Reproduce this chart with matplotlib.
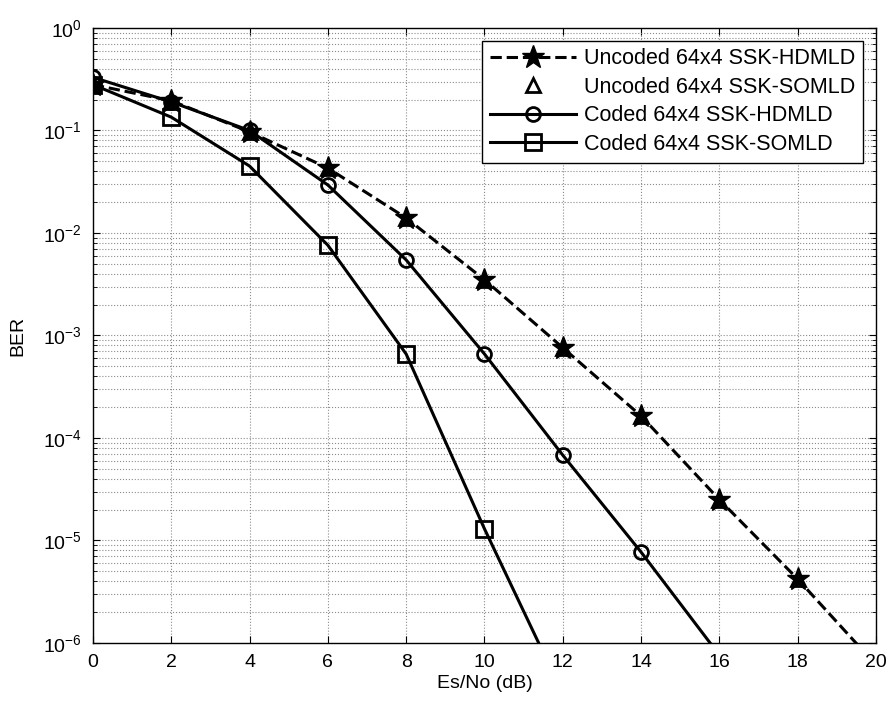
import numpy as np
import matplotlib.pyplot as plt
from matplotlib.ticker import LogLocator, MultipleLocator, NullLocator

plt.rcParams['font.family'] = ['Liberation Sans', 'DejaVu Sans']

# Es/No (dB)
snr = [0, 2, 4, 6, 8, 10, 12, 14, 16, 18, 20]
snr_hd = [0, 2, 4, 6, 8, 10, 12, 14, 16]
snr_so = [0, 2, 4, 6, 8, 10, 12]

ber_uncoded_hd = [0.28, 0.195, 0.097, 0.043, 0.014, 0.0035, 7.6e-4, 1.64e-4, 2.5e-5, 4.2e-6, 6.1e-7]
ber_uncoded_so = [0.28, 0.195, 0.097, 0.043, 0.014, 0.0035, 7.6e-4, 1.64e-4, 2.5e-5, 4.2e-6, 6.1e-7]
ber_coded_hd = [0.33, 0.19, 0.10, 0.0294, 0.00546, 6.6e-4, 6.8e-5, 7.7e-6, 7.6e-7]
ber_coded_so = [0.28, 0.135, 0.045, 0.0076, 6.6e-4, 1.3e-5, 3.2e-7]

labels = ['Uncoded 64x4 SSK-HDMLD', 'Uncoded 64x4 SSK-SOMLD',
          'Coded 64x4 SSK-HDMLD', 'Coded 64x4 SSK-SOMLD']

fig = plt.figure(figsize=(8.93, 7.10), dpi=100)
ax = fig.add_axes([0.104, 0.0944, 0.877, 0.8662])

ax.semilogy(snr, ber_uncoded_hd, 'k--*', lw=2.2, ms=17, label=labels[0])
ax.semilogy(snr, ber_uncoded_so, 'k^', ls='none', ms=10, mfc='none', mew=2, label=labels[1])
ax.semilogy(snr_hd, ber_coded_hd, 'k-o', lw=2.2, ms=10, mfc='none', mew=2, label=labels[2])
ax.semilogy(snr_so, ber_coded_so, 'k-s', lw=2.2, ms=11, mfc='none', mew=2, label=labels[3])

ax.set_xlim(0, 20)
ax.set_ylim(1e-6, 1)
ax.xaxis.set_major_locator(MultipleLocator(2))
ax.xaxis.set_minor_locator(NullLocator())
ax.yaxis.set_major_locator(LogLocator(base=10, numticks=10))
ax.yaxis.set_minor_locator(LogLocator(base=10, subs=np.arange(2, 10), numticks=10))

ax.grid(True, which='major', axis='both', ls=':', color='0.55', lw=0.8)
ax.grid(True, which='minor', axis='y', ls=':', color='0.55', lw=0.8)

ax.tick_params(which='both', direction='in', top=True, right=True, labelsize=14)
ax.tick_params(which='major', length=5, pad=8)
ax.tick_params(which='minor', length=3)
for s in ax.spines.values():
    s.set_linewidth(1.0)

ax.set_xlabel('Es/No (dB)', fontsize=14, labelpad=3)
ax.set_ylabel('BER', fontsize=14, labelpad=12)

leg = ax.legend(loc='upper right', fontsize=15.5, fancybox=False, framealpha=1,
                edgecolor='black', borderaxespad=0.6, handlelength=4.0,
                handletextpad=0.4, labelspacing=0.35, borderpad=0.35)
leg.get_frame().set_linewidth(1.0)

fig.savefig('out.png', dpi=100)
